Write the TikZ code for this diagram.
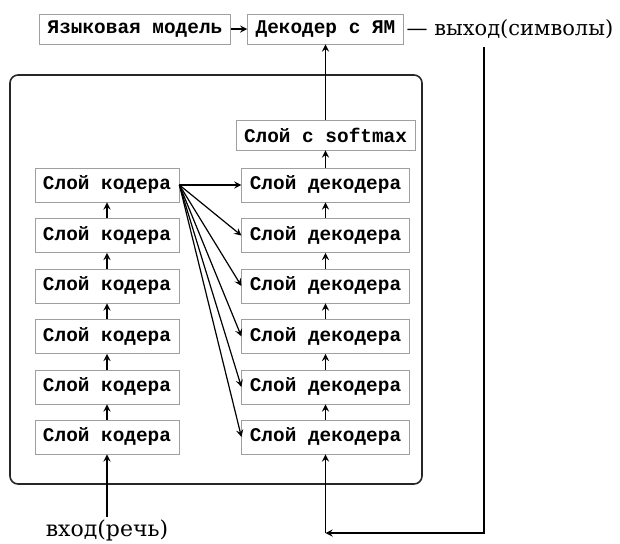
\documentclass[tikz,border=0pt]{standalone}
\usepackage{fontspec}
\setmainfont{DejaVu Serif}
\setmonofont{Liberation Mono}

\begin{document}
\begin{tikzpicture}[x=0.5pt, y=-0.5pt, semithick, >=stealth,
  layer/.style={draw=gray!75, thin, fill=white,
    font=\ttfamily\bfseries\fontsize{9.7}{11}\selectfont,
    inner xsep=4pt, inner ysep=0pt, minimum height=17pt},
  sigtext/.style={font=\fontsize{11}{13}\selectfont, inner sep=1pt}]
  \useasboundingbox (0,0) rectangle (620,543);

  % 1. The frame round the encoder-decoder network
  \draw[rounded corners=4pt, gray!30!black, thick] (10,75) rectangle (422,484);

  % 2. Encoder and decoder layers, six of each, top to bottom
  \foreach \i/\y in {1/185, 2/235.5, 3/286, 4/336.5, 5/387, 6/437} {
    \node[layer] (enc\i) at (107,\y) {Слой кодера};
    \node[layer] (dec\i) at (325.5,\y) {Слой декодера};
  }
  \foreach \i/\j in {1/2, 2/3, 3/4, 4/5, 5/6} {
    \draw[->] (enc\j) -- (enc\i);
    \draw[->] (dec\j) -- (dec\i);
  }

  % 3. The last encoder layer feeds every decoder layer
  \foreach \i in {1,...,6} {
    \draw[->] (enc1.east) -- (dec\i.west);
  }

  % 4. Softmax and the language model on top
  \node[layer, minimum height=15pt] (soft) at (325.5,135) {Слой с softmax};
  \draw[->] (dec1) -- (soft);
  \node[layer, minimum height=15pt] (lm) at (135,29) {Языковая модель};
  \node[layer, minimum height=15pt] (lmdec) at (325.5,29) {Декодер с ЯМ};
  \draw[->] (lm) -- (lmdec);
  \draw[->] (soft) -- (lmdec);

  % 5. Input and output, output fed back to the decoder
  \node[sigtext, anchor=west, font=\fontsize{10.5}{12}\selectfont] (out) at (404,29) {— выход(символы)};
  \node[sigtext] (in) at (107,530) {вход(речь)};
  \draw[->] (in) -- (enc6);
  \coordinate (drop) at (484,47);
  \coordinate (corner) at (0,533);
  \draw[->] (drop) |- (dec6.south |- corner);
  \draw[->] (dec6.south |- corner) -- (dec6.south);
\end{tikzpicture}
\end{document}
